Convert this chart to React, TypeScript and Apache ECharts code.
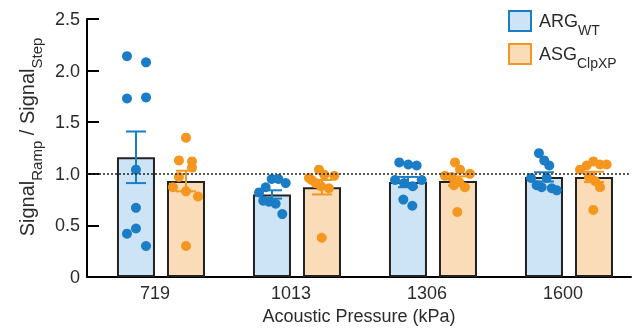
import React, { useEffect, useRef } from "react";
import * as echarts from "echarts";

const categories = ["719", "1013", "1306", "1600"];

// bar heights (means) and error (SEM)
const argMean = [1.16, 0.8, 0.92, 0.97];
const argSem = [0.25, 0.04, 0.05, 0.045];
const asgMean = [0.93, 0.87, 0.93, 0.97];
const asgSem = [0.1, 0.07, 0.045, 0.05];

// individual replicate values per pressure
const argPoints = [
  [2.14, 2.08, 1.73, 1.74, 1.04, 0.67, 0.47, 0.42, 0.3],
  [0.95, 0.95, 0.91, 0.87, 0.82, 0.74, 0.73, 0.71, 0.61],
  [1.11, 1.09, 1.08, 0.94, 0.91, 0.88, 0.94, 0.75, 0.69],
  [1.2, 1.13, 1.08, 0.96, 0.96, 0.89, 0.87, 0.86, 0.84],
];
const asgPoints = [
  [1.35, 1.13, 1.12, 1.06, 0.97, 0.87, 0.83, 0.78, 0.3],
  [1.04, 0.99, 0.98, 0.96, 0.94, 0.91, 0.88, 0.86, 0.38],
  [1.11, 1.04, 1.0, 0.98, 0.97, 0.92, 0.89, 0.87, 0.63],
  [1.12, 1.09, 1.09, 1.08, 1.04, 0.97, 0.93, 0.87, 0.65],
];
// horizontal jitter of each dot (in category units, relative to group centre)
const argJitter = [
  [-0.25, -0.11, -0.25, -0.11, -0.184, -0.184, -0.184, -0.25, -0.11],
  [-0.186, -0.137, -0.083, -0.23, -0.279, -0.248, -0.206, -0.157, -0.108],
  [-0.248, -0.182, -0.12, -0.279, -0.213, -0.149, -0.083, -0.218, -0.152],
  [-0.221, -0.182, -0.145, -0.279, -0.164, -0.238, -0.201, -0.127, -0.09],
];
const asgJitter = [
  [0.184, 0.132, 0.228, 0.228, 0.132, 0.088, 0.184, 0.272, 0.184],
  [0.162, 0.201, 0.274, 0.088, 0.108, 0.137, 0.176, 0.235, 0.182],
  [0.162, 0.199, 0.272, 0.088, 0.137, 0.193, 0.154, 0.235, 0.179],
  [0.179, 0.228, 0.277, 0.13, 0.081, 0.147, 0.191, 0.228, 0.179],
];

const yTicks = [0, 0.5, 1.0, 1.5, 2.0, 2.5];

const BLUE = "#1b7dc6";
const ORANGE = "#f5961f";
const BLUE_FILL = "#cde4f6";
const ORANGE_FILL = "#fbdcb8";
const FONT = "'Liberation Sans', Arial, Helvetica, sans-serif";
const TEXT = "#2b2b2b";
const SHIFT = 0.044; // groups sit slightly right of the tick labels
const HALF_SEP = 25; // px between group centre and each bar centre

function errorSeries(name: string, mean: number[], sem: number[], side: number, color: string) {
  return {
    type: "custom",
    name,
    xAxisIndex: 1,
    z: 3,
    silent: true,
    data: mean.map((m, i) => [i + SHIFT, m, sem[i]]),
    renderItem: (params: any, api: any) => {
      const x = api.value(0);
      const m = api.value(1);
      const s = api.value(2);
      const top = api.coord([x, m + s]);
      const bot = api.coord([x, m - s]);
      const cx = top[0] + side * HALF_SEP;
      const cap = 10;
      const st = { stroke: color, lineWidth: 2 };
      return {
        type: "group",
        children: [
          { type: "line", shape: { x1: cx, y1: top[1], x2: cx, y2: bot[1] }, style: st },
          { type: "line", shape: { x1: cx - cap, y1: top[1], x2: cx + cap, y2: top[1] }, style: st },
          { type: "line", shape: { x1: cx - cap, y1: bot[1], x2: cx + cap, y2: bot[1] }, style: st },
        ],
      };
    },
  };
}

function pointData(points: number[][], jitter: number[][]) {
  const out: number[][] = [];
  points.forEach((grp, i) => grp.forEach((v, k) => out.push([i + SHIFT + jitter[i][k], v])));
  return out;
}

export default function App() {
  const ref = useRef<HTMLDivElement>(null);
  useEffect(() => {
    if (!ref.current) return;
    const chart = echarts.init(ref.current, undefined, { renderer: "svg" });
    const subRich = {
      m: { fontSize: 18, lineHeight: 18, verticalAlign: "top", fontFamily: FONT, color: TEXT },
      s: { fontSize: 14, lineHeight: 14, padding: [11, 0, 0, 0], verticalAlign: "top", fontFamily: FONT, color: TEXT },
    };
    chart.setOption({
      animation: false,
      textStyle: { fontFamily: FONT },
      grid: { left: 87, right: 2, top: 19, bottom: 54, containLabel: false },
      legend: {
        orient: "vertical",
        left: 503,
        top: 5,
        itemWidth: 22,
        itemHeight: 20,
        itemGap: 6,
        icon: "rect",
        selectedMode: false,
        data: [
          { name: "ARG", itemStyle: { color: BLUE_FILL, borderColor: BLUE, borderWidth: 2 } },
          { name: "ASG", itemStyle: { color: ORANGE_FILL, borderColor: ORANGE, borderWidth: 2 } },
        ],
        formatter: (n: string) => (n === "ARG" ? "{m|ARG}{s|WT}" : "{m|ASG}{s|ClpXP}"),
        textStyle: { rich: subRich, padding: [0, 0, 0, 3] },
      },
      xAxis: [
        {
          type: "category",
          data: categories,
          boundaryGap: true,
          axisLine: { onZero: false, lineStyle: { color: "#000", width: 2 } },
          axisTick: { show: false },
          axisLabel: { fontSize: 18, color: TEXT, margin: 7, fontFamily: FONT },
          name: "Acoustic Pressure (kPa)",
          nameLocation: "middle",
          nameGap: 27,
          nameTextStyle: { fontSize: 18, color: TEXT, fontFamily: FONT },
        },
        { type: "value", min: -0.5, max: 3.5, show: false },
      ],
      yAxis: {
        type: "value",
        min: 0,
        max: 2.5,
        interval: 0.5,
        axisLine: { show: true, onZero: false, lineStyle: { color: "#000", width: 2 } },
        axisTick: { show: true, inside: true, length: 12, lineStyle: { color: "#000", width: 2 } },
        splitLine: { show: false },
        axisLabel: {
          fontSize: 18,
          color: TEXT,
          margin: 7,
          fontFamily: FONT,
          formatter: (v: number) => {
            const t = yTicks.find((y) => Math.abs(y - v) < 1e-9);
            const val = t === undefined ? v : t;
            return val === 0 ? "0" : val.toFixed(1);
          },
        },
        name: "{m|Signal}{s|Ramp}{m| / Signal}{s|Step}",
        nameLocation: "middle",
        nameGap: 48,
        nameTextStyle: {
          padding: [0, 0, 0, 22],
          rich: {
            m: { fontSize: 20, lineHeight: 20, verticalAlign: "top", fontFamily: FONT, color: TEXT },
            s: { fontSize: 15, lineHeight: 15, padding: [12, 0, 0, 0], verticalAlign: "top", fontFamily: FONT, color: TEXT },
          },
        },
      },
      series: [
        {
          type: "bar",
          name: "ARG",
          xAxisIndex: 1,
          barWidth: 38,
          barGap: "31.6%",
          z: 2,
          itemStyle: { color: BLUE_FILL, borderColor: "#222", borderWidth: 2 },
          data: argMean.map((v, i) => [i + SHIFT, v]),
          markLine: {
            silent: true,
            symbol: "none",
            label: { show: false },
            lineStyle: { color: "#222", type: [2, 2], width: 1.5 },
            data: [{ yAxis: 1 }],
          },
        },
        {
          type: "bar",
          name: "ASG",
          xAxisIndex: 1,
          barWidth: 38,
          barGap: "31.6%",
          z: 2,
          itemStyle: { color: ORANGE_FILL, borderColor: "#222", borderWidth: 2 },
          data: asgMean.map((v, i) => [i + SHIFT, v]),
        },
        errorSeries("ARG err", argMean, argSem, -1, BLUE),
        errorSeries("ASG err", asgMean, asgSem, 1, ORANGE),
        {
          type: "scatter",
          name: "ARG pts",
          xAxisIndex: 1,
          z: 4,
          symbolSize: 10,
          itemStyle: { color: BLUE, opacity: 1 },
          data: pointData(argPoints, argJitter),
        },
        {
          type: "scatter",
          name: "ASG pts",
          xAxisIndex: 1,
          z: 4,
          symbolSize: 10,
          itemStyle: { color: ORANGE, opacity: 1 },
          data: pointData(asgPoints, asgJitter),
        },
      ],
    });
    return () => chart.dispose();
  }, []);
  return <div ref={ref} style={{ width: 633, height: 331, position: "fixed", left: 0, top: 0 }} />;
}
